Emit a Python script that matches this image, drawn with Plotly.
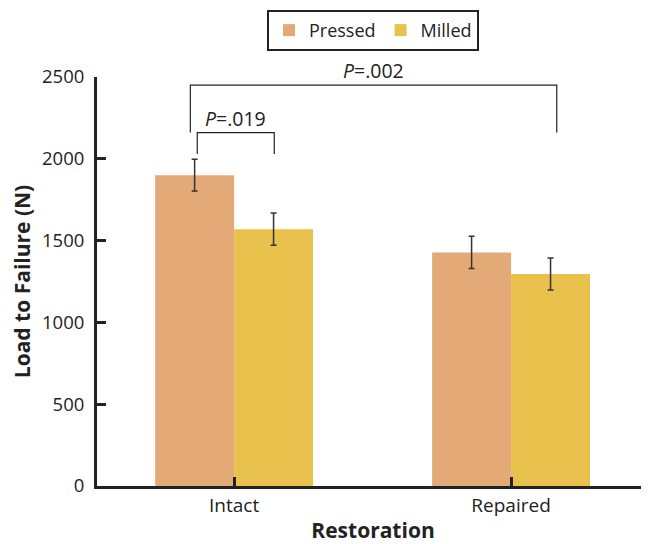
import plotly.graph_objects as go

categories = ["Intact", "Repaired"]
pressed = [1900, 1428]
pressed_err = [97, 98]
milled = [1570, 1296]
milled_err = [98, 98]
y_ticks = [0, 500, 1000, 1500, 2000, 2500]

C_PRESSED = "#E3AA78"
C_MILLED = "#E8C24C"
FONT = "Open Sans"

fig = go.Figure()
fig.add_trace(go.Bar(name="Pressed", x=[0, 1], y=pressed, marker_color=C_PRESSED,
                     marker_line_width=0,
                     error_y=dict(type="data", array=pressed_err, color="#333333",
                                  thickness=1.5, width=3)))
fig.add_trace(go.Bar(name="Milled", x=[0, 1], y=milled, marker_color=C_MILLED,
                     marker_line_width=0,
                     error_y=dict(type="data", array=milled_err, color="#333333",
                                  thickness=1.5, width=3)))

# significance brackets (data coordinates)
line = dict(color="#222222", width=1.2)
bx0, bx1, by, byl = -0.158, 1.165, 2450, 2160
fig.add_shape(type="path", path=f"M {bx0},{byl} L {bx0},{by} L {bx1},{by} L {bx1},{byl}",
              xref="x", yref="y", line=line)
sx0, sx1, sy, syl = -0.133, 0.145, 2160, 2030
fig.add_shape(type="path", path=f"M {sx0},{syl} L {sx0},{sy} L {sx1},{sy} L {sx1},{syl}",
              xref="x", yref="y", line=line)

fig.add_annotation(x=(bx0 + bx1) / 2, y=by, yshift=-1, text="<i>P</i>=.002", showarrow=False,
                   yanchor="bottom", font=dict(family=FONT, size=19.5, color="#222"))
fig.add_annotation(x=(sx0 + sx1) / 2, y=sy, yshift=-1, text="<i>P</i>=.019", showarrow=False,
                   yanchor="bottom", font=dict(family=FONT, size=19.5, color="#222"))

fig.update_layout(
    width=641, height=536,
    margin=dict(l=89, r=0, t=69, b=58, autoexpand=False),
    paper_bgcolor="white", plot_bgcolor="white",
    barmode="group", bargap=0.43, bargroupgap=0,
    font=dict(family=FONT, size=18.5, color="#222"),
    legend=dict(orientation="h", x=0.5, xanchor="center", y=1.164, yanchor="top",
                bordercolor="#222", borderwidth=2, font=dict(size=18),
                itemwidth=30, tracegroupgap=0),
    xaxis=dict(range=[-0.495, 1.498], tickmode="array", tickvals=[0, 1],
               ticktext=categories, showline=True, linecolor="#222", linewidth=3,
               ticks="inside", ticklen=9, tickwidth=3, tickcolor="#222",
               showgrid=False, zeroline=False, tickfont=dict(size=19),
               title=dict(text="<b>Restoration</b>", font=dict(size=21), standoff=10)),
    yaxis=dict(range=[0, 2500], tickvals=y_ticks, showline=True, linecolor="#222",
               linewidth=3, ticks="inside", ticklen=9, tickwidth=3, tickcolor="#222",
               showgrid=False, zeroline=False, ticklabelstandoff=6,
               title=dict(text="<b>Load to Failure (N)</b>", font=dict(size=21), standoff=8)),
)

fig.write_html("out.html", config={"displayModeBar": False})
